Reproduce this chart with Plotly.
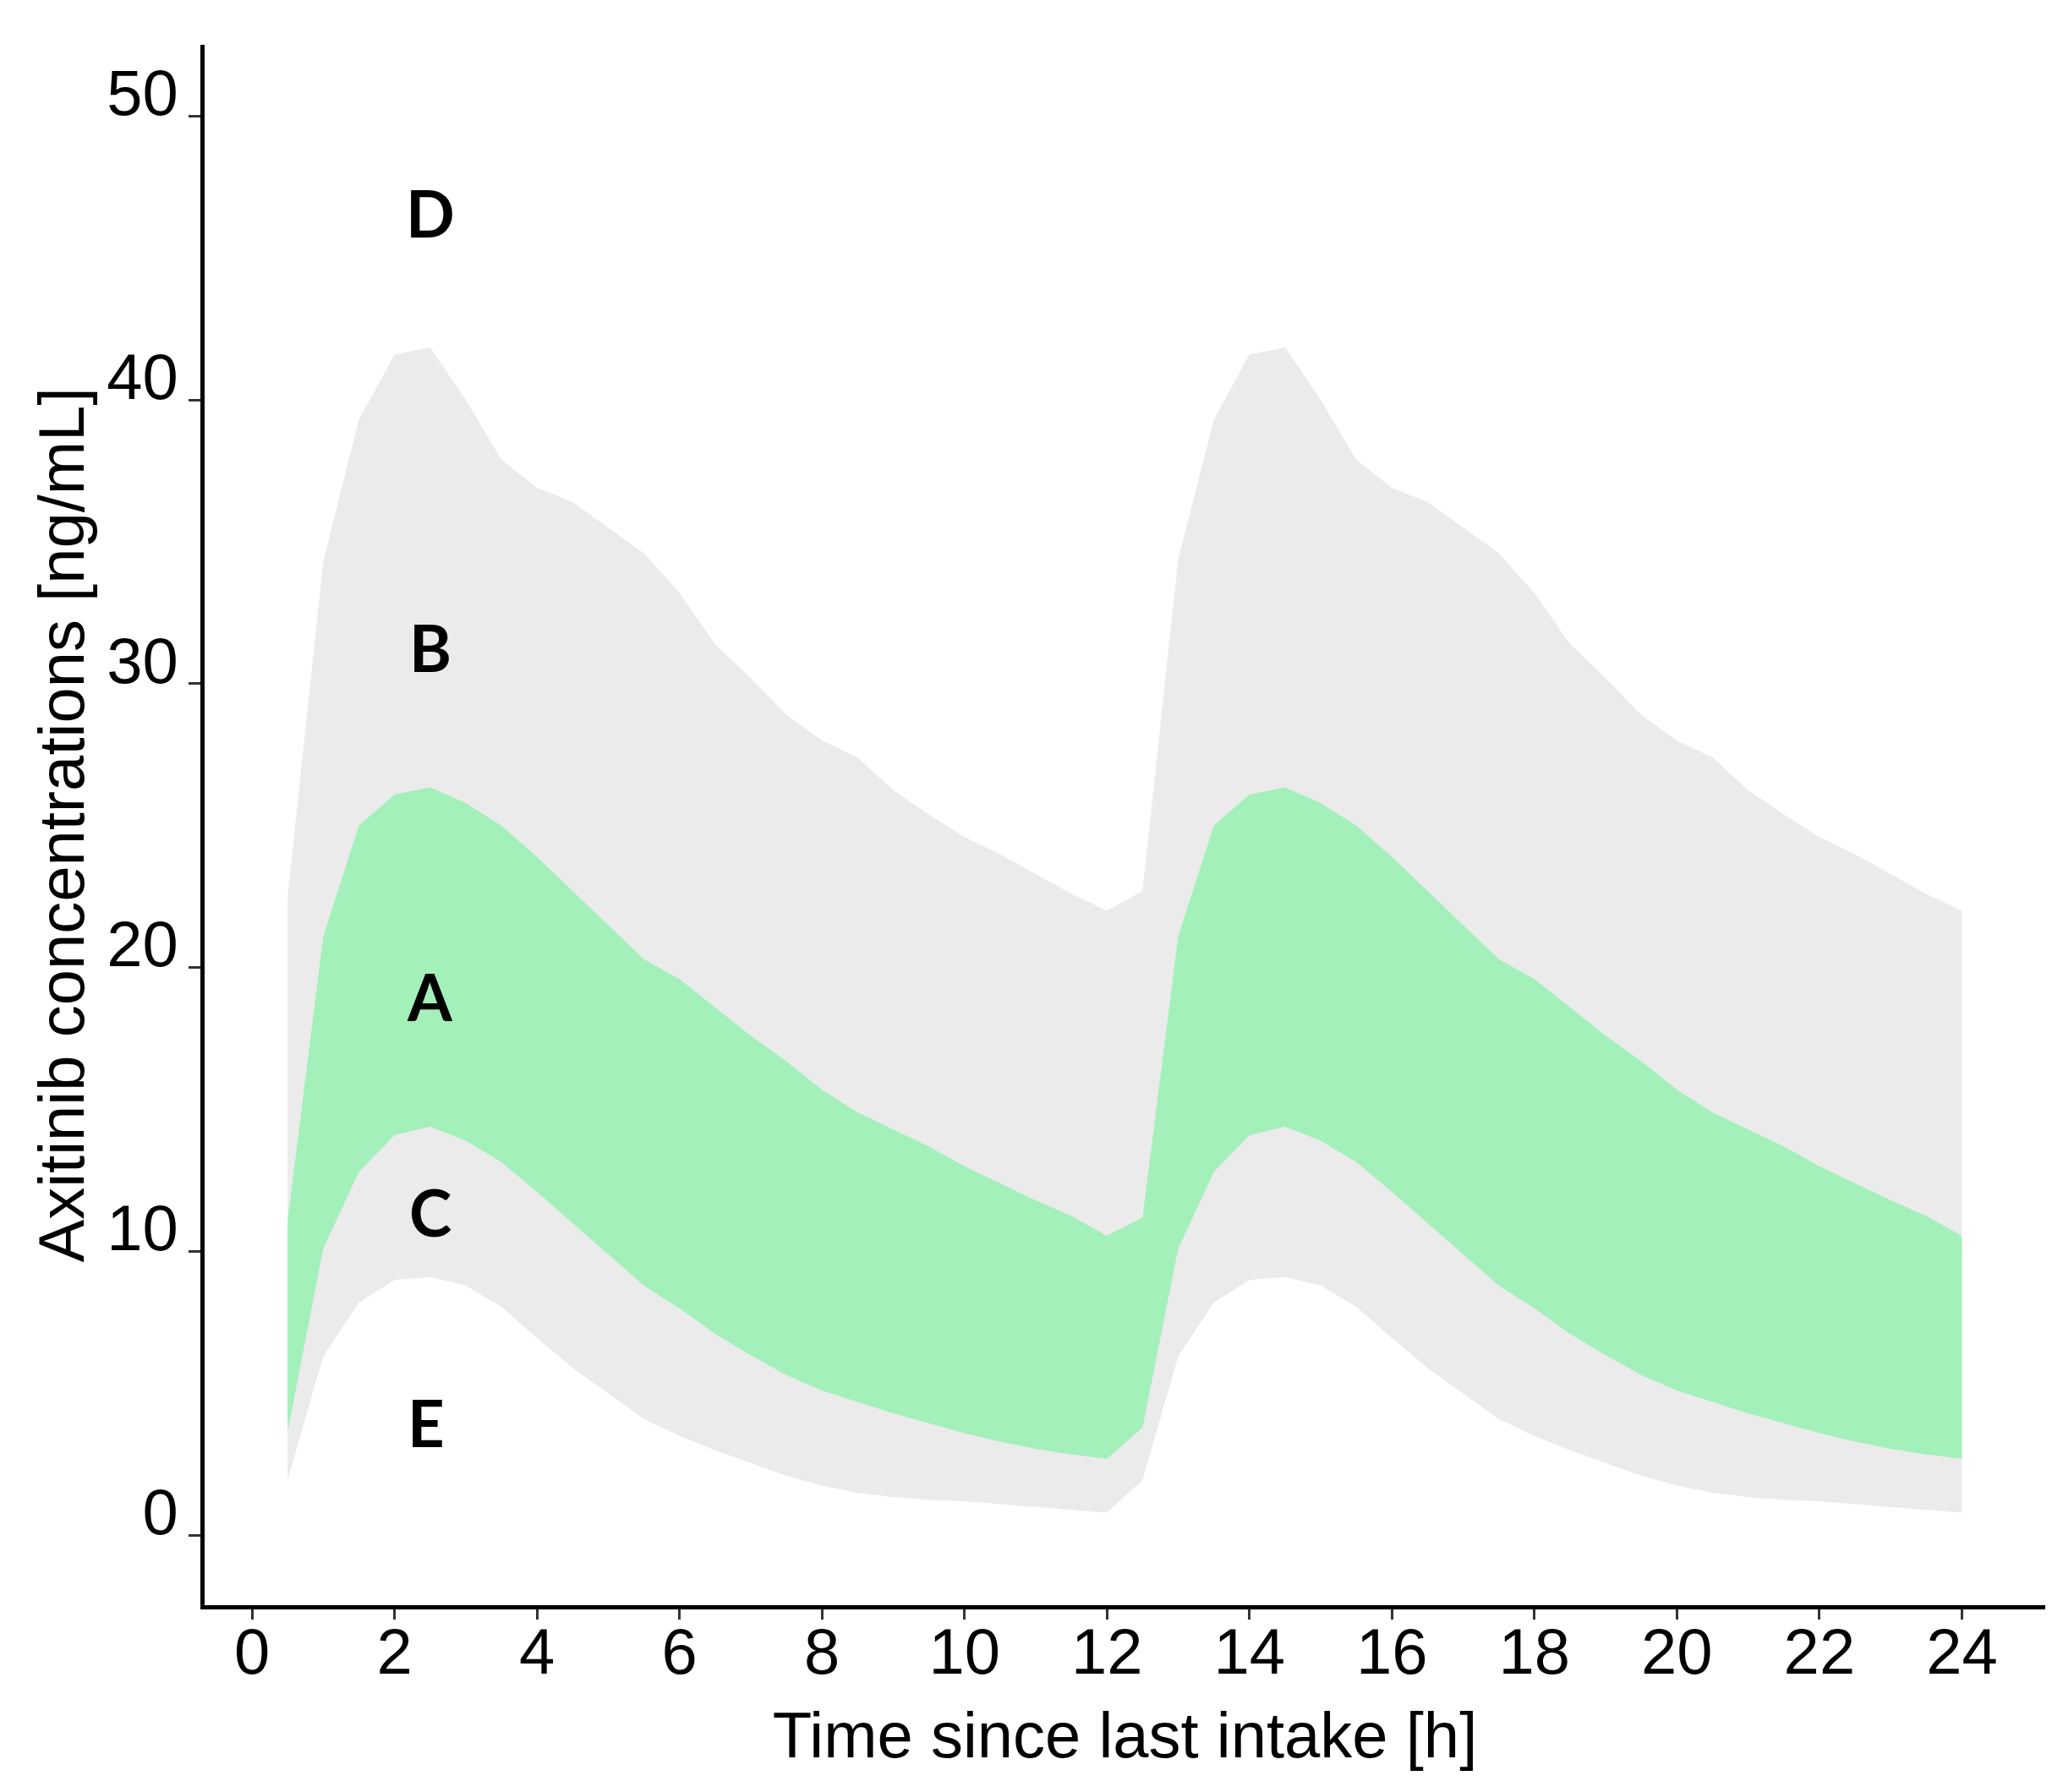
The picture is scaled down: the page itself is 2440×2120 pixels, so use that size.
import plotly.graph_objects as go

time_h = [0.5, 1, 1.5, 2, 2.5, 3, 3.5, 4, 4.5, 5, 5.5, 6, 6.5, 7, 7.5, 8, 8.5, 9, 9.5, 10,
          10.5, 11, 11.5, 12, 12.5, 13, 13.5, 14, 14.5, 15, 15.5, 16, 16.5, 17, 17.5, 18,
          18.5, 19, 19.5, 20, 20.5, 21, 21.5, 22, 22.5, 23, 23.5, 24]

# outer (grey) band upper edge
p95 = [22.5, 34.3, 39.3, 41.6, 41.85, 40.0, 37.9, 36.9, 36.4, 35.5, 34.6, 33.2, 31.4, 30.2,
       28.9, 28.0, 27.4, 26.25, 25.4, 24.6, 24.0, 23.3, 22.6, 22.0, 22.7, 34.4, 39.3, 41.6,
       41.85, 40.0, 37.9, 36.9, 36.4, 35.5, 34.6, 33.2, 31.4, 30.2, 28.9, 28.0, 27.4, 26.25,
       25.4, 24.6, 24.0, 23.3, 22.6, 22.0]
# inner (green) band upper edge
p75 = [11.1, 21.1, 25.0, 26.1, 26.35, 25.8, 25.0, 23.9, 22.7, 21.5, 20.3, 19.6, 18.6, 17.6,
       16.7, 15.7, 14.9, 14.3, 13.7, 13.0, 12.4, 11.8, 11.25, 10.55, 11.2, 21.1, 25.0, 26.1,
       26.35, 25.8, 25.0, 23.9, 22.7, 21.5, 20.3, 19.6, 18.6, 17.6, 16.7, 15.7, 14.9, 14.3,
       13.7, 13.0, 12.4, 11.8, 11.25, 10.55]
# inner (green) band lower edge
p25 = [3.65, 10.1, 12.8, 14.1, 14.4, 13.9, 13.15, 12.1, 11.0, 9.9, 8.8, 8.0, 7.1, 6.35,
       5.65, 5.1, 4.7, 4.3, 3.95, 3.6, 3.3, 3.05, 2.85, 2.7, 3.8, 10.1, 12.8, 14.1, 14.4,
       13.9, 13.15, 12.1, 11.0, 9.9, 8.8, 8.0, 7.1, 6.35, 5.65, 5.1, 4.7, 4.3, 3.95, 3.6,
       3.3, 3.05, 2.85, 2.7]
# outer (grey) band lower edge
p05 = [1.95, 6.3, 8.2, 9.0, 9.1, 8.8, 8.05, 6.95, 5.9, 5.0, 4.1, 3.5, 3.0, 2.55, 2.1, 1.75,
       1.5, 1.35, 1.25, 1.2, 1.1, 1.0, 0.9, 0.8, 1.95, 6.3, 8.2, 9.0, 9.1, 8.8, 8.05, 6.95,
       5.9, 5.0, 4.1, 3.5, 3.0, 2.55, 2.1, 1.75, 1.5, 1.35, 1.25, 1.2, 1.1, 1.0, 0.9, 0.8]

region_labels = ["D", "B", "A", "C", "E"]
region_x = [2.5, 2.5, 2.5, 2.5, 2.45]
region_y = [46.6, 31.3, 19.0, 11.4, 4.0]

x_ticks = list(range(0, 25, 2))
y_ticks = [0, 10, 20, 30, 40, 50]

GREY = "#EBEBEB"
GREEN = "#A3F0BA"

fig = go.Figure()
fig.add_trace(go.Scatter(x=time_h, y=p05, mode="lines", line=dict(width=0, color=GREY),
                         showlegend=False, hoverinfo="skip"))
fig.add_trace(go.Scatter(x=time_h, y=p95, mode="lines", line=dict(width=0, color=GREY),
                         fill="tonexty", fillcolor=GREY, showlegend=False, hoverinfo="skip"))
fig.add_trace(go.Scatter(x=time_h, y=p25, mode="lines", line=dict(width=0, color=GREEN),
                         showlegend=False, hoverinfo="skip"))
fig.add_trace(go.Scatter(x=time_h, y=p75, mode="lines", line=dict(width=0, color=GREEN),
                         fill="tonexty", fillcolor=GREEN, showlegend=False, hoverinfo="skip"))

for lab, lx, ly in zip(region_labels, region_x, region_y):
    fig.add_annotation(x=lx, y=ly, text="<b>%s</b>" % lab, showarrow=False,
                       font=dict(family="Lato", size=76, color="black"),
                       xanchor="center", yanchor="middle")

axis_font = dict(family="Liberation Sans", size=76, color="black")

fig.update_layout(
    width=2440, height=2120,
    margin=dict(l=234, r=29, t=45, b=229),
    paper_bgcolor="white", plot_bgcolor="white",
    showlegend=False,
    xaxis=dict(range=[-0.665, 25.17], tickvals=x_ticks, ticktext=[str(v) for v in x_ticks],
               showgrid=False, zeroline=False, showline=True, linecolor="black", linewidth=5,
               ticks="outside", ticklen=12, tickwidth=3, tickcolor="#333333",
               tickfont=axis_font, ticklabelstandoff=-27,
               title=dict(text="Time since last intake [h]", font=axis_font, standoff=32)),
    yaxis=dict(range=[-2.46, 52.51], tickvals=y_ticks, ticktext=[str(v) for v in y_ticks],
               showgrid=False, zeroline=False, showline=True, linecolor="black", linewidth=5,
               ticks="outside", ticklen=14, tickwidth=3, tickcolor="#333333",
               tickfont=axis_font, ticklabelstandoff=-3, ticklabelshift=-28,
               title=dict(text="Axitinib concentrations [ng/mL]", font=axis_font, standoff=3)),
)

fig.write_html("out.html")
